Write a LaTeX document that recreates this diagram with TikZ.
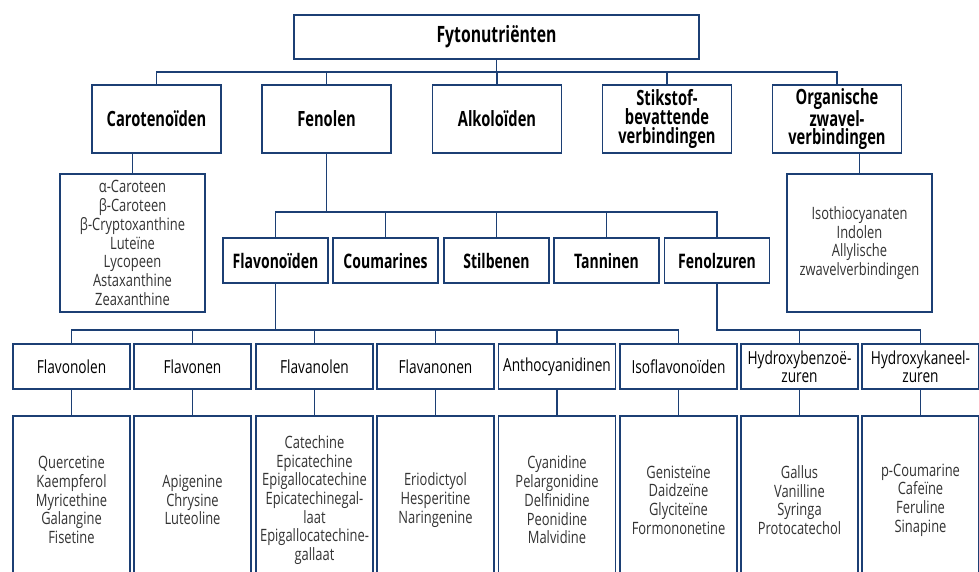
\documentclass[tikz,border=0pt]{standalone}
\usepackage{fontspec}
\setmainfont{Open Sans}
\newfontfamily\bfam{Open Sans}[FakeStretch=0.70]
\newfontfamily\rfam{Open Sans}[FakeStretch=0.76]
\definecolor{navy}{HTML}{1C3F74}
\definecolor{txtgray}{HTML}{333333}
\tikzset{
  box/.style={draw=navy, line width=1.8pt, fill=white, inner sep=0pt, outer sep=0pt, align=center, anchor=center},
  hone/.style={box, minimum width=129pt, minimum height=68pt, font=\bfam\bfseries\fontsize{21}{18.6}\selectfont},
  htwo/.style={box, minimum width=105pt, minimum height=45pt, font=\bfam\bfseries\fontsize{20}{18.6}\selectfont},
  hthree/.style={box, minimum width=117pt, minimum height=45pt, font=\rfam\fontsize{18}{18.3}\selectfont},
  lst/.style={box, text=txtgray, font=\rfam\fontsize{17}{18.7}\selectfont},
  leaf/.style={lst, minimum width=117pt, minimum height=168pt},
  conn/.style={draw=navy, line width=1.8pt}
}
\begin{document}
\begin{tikzpicture}[x=1pt,y=-1pt]
\useasboundingbox (0,0) rectangle (979,572);
\clip (0,0) rectangle (979,572);
\coordinate (busa) at (0,72);
\coordinate (busb) at (0,212);
\coordinate (busc) at (0,330);

% top
\node[box, minimum width=405pt, minimum height=44pt, font=\bfam\bfseries\fontsize{22.5}{18}\selectfont] (top) at (496.5,37) {Fytonutriënten};

% level 1
\node[hone] (caro) at (156.5,119) {Carotenoïden};
\node[hone] (feno) at (326.5,119) {Fenolen};
\node[hone] (alk)  at (497,119) {Alkoloïden};
\node[hone] (stik) at (667,119) {Stikstof-\\bevattende\\verbindingen};
\node[hone] (org)  at (837,119) {Organische\\zwavel-\\verbindingen};

% lists under level 1
\node[lst, minimum width=145pt, minimum height=138pt] (clist) at (132.5,243)
  {α-Caroteen\\β-Caroteen\\β-Cryptoxanthine\\Luteïne\\Lycopeen\\Astaxanthine\\Zeaxanthine};
\node[lst, minimum width=145pt, minimum height=138pt] (olist) at (859.5,243)
  {Isothiocyanaten\\Indolen\\Allylische\\zwavelverbindingen};

% level 2
\node[htwo] (flav) at (275.5,260.5) {Flavonoïden};
\node[htwo] (cou)  at (385.5,260.5) {Coumarines};
\node[htwo] (stil) at (496.5,260.5) {Stilbenen};
\node[htwo] (tan)  at (606.5,260.5) {Tanninen};
\node[htwo] (fzur) at (717,260.5) {Fenolzuren};

% level 3
\node[hthree] (fnol)  at (71.5,366.5)  {Flavonolen};
\node[hthree] (fnen)  at (192.5,366.5) {Flavonen};
\node[hthree] (fanol) at (314.5,366.5) {Flavanolen};
\node[hthree] (fanon) at (435.5,366.5) {Flavanonen};
\node[hthree] (anth)  at (557,366.5)   {Anthocyanidinen};
\node[hthree] (iso)   at (678.5,366.5) {Isoflavonoïden};
\node[hthree] (hbz)   at (799.5,366.5) {Hydroxybenzoë-\\zuren};
\node[hthree] (hkn)   at (920.5,366.5) {Hydroxykaneel-\\zuren};

% level 4
\node[leaf] (lfnol)  at (71.5,500)  {Quercetine\\Kaempferol\\Myricethine\\Galangine\\Fisetine};
\node[leaf] (lfnen)  at (192.5,500) {Apigenine\\Chrysine\\Luteoline};
\node[leaf] (lfanol) at (314.5,500) {Catechine\\Epicatechine\\Epigallocatechine\\Epicatechinegal-\\laat\\Epigallocatechine-\\gallaat};
\node[leaf] (lfanon) at (435.5,500) {Eriodictyol\\Hesperitine\\Naringenine};
\node[leaf] (lanth)  at (557,500)   {Cyanidine\\Pelargonidine\\Delfinidine\\Peonidine\\Malvidine};
\node[leaf] (liso)   at (678.5,500) {Genisteïne\\Daidzeïne\\Glyciteïne\\Formononetine};
\node[leaf] (lhbz)   at (799.5,500) {Gallus\\Vanilline\\Syringa\\Protocatechol};
\node[leaf] (lhkn)   at (920.5,500) {p-Coumarine\\Cafeïne\\Feruline\\Sinapine};

% connectors level 0 -> 1
\draw[conn] (top.south) -- (top.south |- busa);
\draw[conn] (caro.north) |- (org.north |- busa) -- (org.north);
\foreach \n in {feno,alk,stik} \draw[conn] (\n.north) -- (\n.north |- busa);

% level 1 -> lists
\draw[conn] (clist.north) -- (clist.north |- caro.south);
\draw[conn] (olist.north) -- (olist.north |- org.south);

% Fenolen -> level 2
\draw[conn] (feno.south) -- (feno.south |- busb);
\draw[conn] (flav.north) |- (fzur.north |- busb) -- (fzur.north);
\foreach \n in {cou,stil,tan} \draw[conn] (\n.north) -- (\n.north |- busb);

% Flavonoiden -> level 3
\draw[conn] (flav.south) -- (flav.south |- busc);
\draw[conn] (fnol.north) |- (iso.north |- busc) -- (iso.north);
\foreach \n in {fnen,fanol,fanon,anth} \draw[conn] (\n.north) -- (\n.north |- busc);

% Fenolzuren -> level 3
\draw[conn] (fzur.south) |- (hkn.north |- busc) -- (hkn.north);
\draw[conn] (hbz.north) -- (hbz.north |- busc);

% level 3 -> level 4
\draw[conn] (fnol.south) -- (lfnol.north);
\draw[conn] (fnen.south) -- (lfnen.north);
\draw[conn] (fanol.south) -- (lfanol.north);
\draw[conn] (fanon.south) -- (lfanon.north);
\draw[conn] (anth.south) -- (lanth.north);
\draw[conn] (iso.south) -- (liso.north);
\draw[conn] (hbz.south) -- (lhbz.north);
\draw[conn] (hkn.south) -- (lhkn.north);
\end{tikzpicture}
\end{document}
